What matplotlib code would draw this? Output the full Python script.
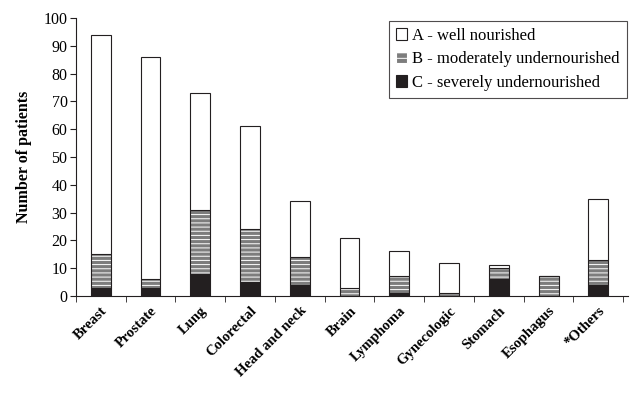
import matplotlib
matplotlib.use('Agg')
import matplotlib.pyplot as plt
from matplotlib.patches import Patch
import numpy as np

# 各类肿瘤患者的营养状况（堆叠：C 在底，B 中间，A 在顶）
categories = ['Breast', 'Prostate', 'Lung', 'Colorectal', 'Head and neck', 'Brain',
              'Lymphoma', 'Gynecologic', 'Stomach', 'Esophagus', '*Others']
severe = [3, 3, 8, 5, 4, 0, 1, 0, 6, 0, 4]
moderate = [12, 3, 23, 19, 10, 3, 6, 1, 4, 7, 9]
well = [79, 80, 42, 37, 20, 18, 9, 11, 1, 0, 22]

plt.rcParams['font.family'] = ['Liberation Serif', 'DejaVu Serif']
plt.rcParams['hatch.linewidth'] = 0.7

fig = plt.figure(figsize=(6.32, 3.94), dpi=100)
ax = fig.add_axes([0.120, 0.249, 0.874, 0.705])

x = np.arange(len(categories))
width = 0.4
severe = np.array(severe)
moderate = np.array(moderate)
well = np.array(well)

ax.bar(x, severe, width, color='#231f20', edgecolor='#231f20', linewidth=0.8)
# B 段：灰底白色横纹
ax.bar(x, moderate, width, bottom=severe, color='#7d7d7d', edgecolor='white',
       hatch='----', linewidth=0)
ax.bar(x, moderate, width, bottom=severe, fill=False, edgecolor='#231f20', linewidth=0.8)
ax.bar(x, well, width, bottom=severe + moderate, color='white', edgecolor='#231f20',
       linewidth=0.8)

# 图例
handles = [Patch(facecolor='white', edgecolor='#231f20', linewidth=0.8),
           Patch(facecolor='#7d7d7d', edgecolor='white', hatch='---', linewidth=0.8),
           Patch(facecolor='#231f20', edgecolor='#231f20', linewidth=0.8)]
labels = ['A - well nourished', 'B - moderately undernourished', 'C - severely undernourished']
leg = ax.legend(handles, labels, loc='upper right', bbox_to_anchor=(1.0, 0.995),
                fontsize=12, frameon=True, fancybox=False, edgecolor='#231f20',
                handlelength=0.7, handleheight=0.7, handletextpad=0.3,
                labelspacing=0.45, borderpad=0.4, borderaxespad=0.1)
leg.get_frame().set_linewidth(0.8)

ax.set_xlim(-0.5, len(categories) - 0.5 + 0.1)
ax.set_ylim(0, 100)
ax.set_yticks(np.arange(0, 101, 10))
ax.set_xticks(x)
ax.set_xticklabels(categories, rotation=45, ha='right', rotation_mode='anchor',
                   fontweight='bold', fontsize=10.5)
ax.tick_params(axis='x', length=0, pad=6)
ax.set_xticks(np.arange(len(categories) + 1) - 0.5, minor=True)
ax.tick_params(axis='x', which='minor', length=4, direction='out', color='#231f20')
ax.tick_params(axis='y', length=4, direction='out', labelsize=11.5, color='#231f20', pad=2)
ax.set_ylabel('Number of patients', fontweight='bold', fontsize=11.5, labelpad=8)

for side in ['top', 'right']:
    ax.spines[side].set_visible(False)
for side in ['left', 'bottom']:
    ax.spines[side].set_color('#231f20')
    ax.spines[side].set_linewidth(0.8)

plt.savefig('out.png', dpi=100)
plt.close()
